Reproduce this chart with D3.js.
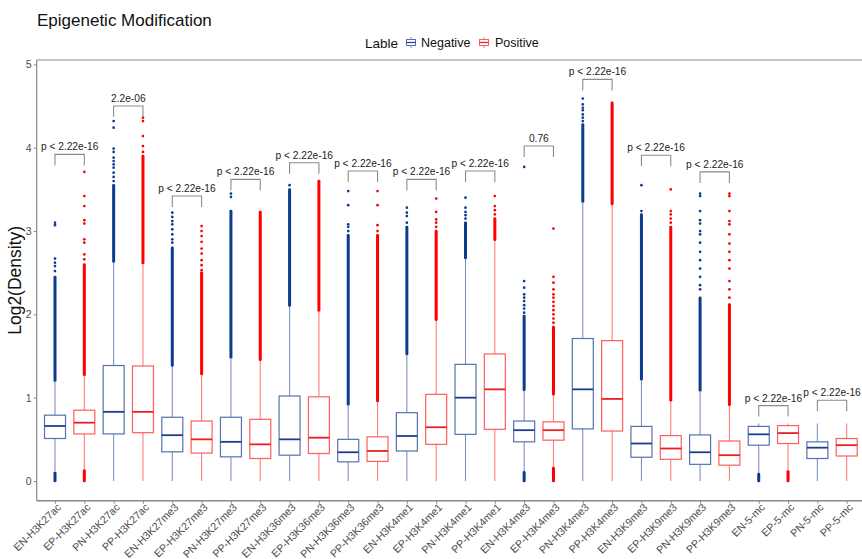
<!DOCTYPE html>
<html>
<head>
<meta charset="utf-8">
<script src="https://cdn.jsdelivr.net/npm/d3@7"></script>
<style>
  body { margin: 0; background: #fff; }
  svg { display: block; font-family: "Liberation Sans", Arial, sans-serif; }
</style>
</head>
<body>
<svg id="chart" width="862" height="559"></svg>
<script>
const categories = [
  "EN-H3K27ac", "EP-H3K27ac", "PN-H3K27ac", "PP-H3K27ac",
  "EN-H3K27me3", "EP-H3K27me3", "PN-H3K27me3", "PP-H3K27me3",
  "EN-H3K36me3", "EP-H3K36me3", "PN-H3K36me3", "PP-H3K36me3",
  "EN-H3K4me1", "EP-H3K4me1", "PN-H3K4me1", "PP-H3K4me1",
  "EN-H3K4me3", "EP-H3K4me3", "PN-H3K4me3", "PP-H3K4me3",
  "EN-H3K9me3", "EP-H3K9me3", "PN-H3K9me3", "PP-H3K9me3",
  "EN-5-mc", "EP-5-mc", "PN-5-mc", "PP-5-mc"
];
const labels = categories.map((c, i) => (i % 2 === 0 ? "Negative" : "Positive"));

// box statistics, log2 density
const whiskerLow = [0.11, 0.14, 0, 0, 0, 0, 0, 0, 0, 0, 0, 0, 0, 0, 0, 0,
  0.12, 0.17, 0, 0, 0, 0, 0, 0, 0.10, 0.13, 0, 0];
const q1 = [0.51, 0.565, 0.565, 0.58, 0.35, 0.335, 0.29, 0.27, 0.31, 0.33, 0.23, 0.235,
  0.36, 0.44, 0.56, 0.62, 0.47, 0.49, 0.625, 0.60, 0.285, 0.26, 0.20, 0.19,
  0.43, 0.45, 0.27, 0.30];
const median = [0.66, 0.70, 0.83, 0.83, 0.55, 0.50, 0.47, 0.44, 0.50, 0.52, 0.345, 0.36,
  0.54, 0.645, 1.00, 1.10, 0.61, 0.61, 1.10, 0.985, 0.45, 0.39, 0.345, 0.31,
  0.56, 0.575, 0.40, 0.43];
const q3 = [0.79, 0.85, 1.386, 1.38, 0.765, 0.72, 0.765, 0.74, 1.02, 1.01, 0.50, 0.53,
  0.82, 1.04, 1.40, 1.525, 0.72, 0.71, 1.71, 1.685, 0.655, 0.545, 0.553, 0.48,
  0.655, 0.665, 0.47, 0.51];
const whiskerHigh = [1.19, 1.26, 2.62, 2.60, 1.37, 1.27, 1.47, 1.44, 2.09, 2.03, 0.905, 0.945,
  1.51, 1.92, 2.66, 2.88, 1.08, 1.025, 3.34, 3.31, 1.205, 0.955, 1.075, 0.90,
  0.69, 0.69, 0.69, 0.69];
// top of the dense run of outliers above the upper whisker (null = none)
const denseTop = [2.45, 2.60, 3.55, 3.90, 2.80, 2.50, 3.24, 3.23, 3.50, 3.60, 2.95, 2.95,
  3.05, 3.00, 3.10, 3.15, 1.98, 1.85, 4.28, 4.54, 3.20, 3.05, 2.20, 2.12,
  null, null, null, null];
// isolated outliers above the dense run
const sparseOutliers = [
  [2.52, 2.58, 2.62, 2.67, 3.07, 3.10],
  [2.66, 2.72, 2.86, 2.90, 3.09, 3.13, 3.30, 3.42, 3.71],
  [3.60, 3.65, 3.70, 3.76, 3.80, 3.84, 3.88, 3.95, 3.99, 4.24, 4.32],
  [3.95, 4.02, 4.14, 4.32, 4.36],
  [2.86, 2.90, 2.96, 3.02, 3.08, 3.12, 3.17, 3.22],
  [2.53, 2.59, 2.65, 2.73, 2.79, 2.87, 2.94, 3.00, 3.06],
  [3.41, 3.45],
  [],
  [3.55],
  [],
  [3.00, 3.05, 3.08, 3.31, 3.48],
  [3.00, 3.07, 3.31, 3.48],
  [3.10, 3.18, 3.22, 3.28],
  [3.05, 3.10, 3.14, 3.23, 3.39],
  [3.15, 3.19, 3.23, 3.28, 3.40],
  [3.20, 3.25, 3.30, 3.42],
  [2.02, 2.07, 2.11, 2.16, 2.20, 2.24, 2.32, 2.40, 3.77],
  [1.90, 1.95, 2.00, 2.05, 2.10, 2.15, 2.20, 2.24, 2.30, 2.38, 2.45, 3.03],
  [4.32, 4.36, 4.40, 4.45, 4.48, 4.52, 4.59],
  [],
  [3.24, 3.55],
  [3.10, 3.15, 3.20, 3.24, 3.50],
  [2.30, 2.35, 2.45, 2.55, 2.65, 2.75, 2.86, 2.96, 3.00, 3.09, 3.13, 3.24, 3.42, 3.45],
  [2.20, 2.30, 2.40, 2.55, 2.65, 2.75, 2.85, 2.96, 3.08, 3.12, 3.24, 3.42, 3.45],
  [], [], [], []
];

// wilcoxon comparisons, one per pair of boxes
const pValueLabels = [
  "p < 2.22e-16", "2.2e-06", "p < 2.22e-16", "p < 2.22e-16", "p < 2.22e-16",
  "p < 2.22e-16", "p < 2.22e-16", "p < 2.22e-16", "0.76", "p < 2.22e-16",
  "p < 2.22e-16", "p < 2.22e-16", "p < 2.22e-16", "p < 2.22e-16"
];
const bracketY = [3.92, 4.50, 3.42, 3.62, 3.82, 3.72, 3.62, 3.72, 4.02, 4.82, 3.91, 3.71, 0.905, 0.97];

const yTicks = [0, 1, 2, 3, 4, 5];

const colors = {
  Negative: { box: "#5670b0", whisker: "#7d92c4", median: "#1d3e8e", point: "#0d3c8e" },
  Positive: { box: "#ff5c5c", whisker: "#ff7d7d", median: "#ee1d24", point: "#ff0000" },
};

const svg = d3.select("#chart");
const panel = { left: 36.7, top: 60, right: 866, bottom: 500.7 };

const x = d3.scalePoint().domain(categories).range([55, 846.7]);
const y = d3.scaleLinear().domain([0, 5]).range([481, 64.4]);
const boxWidth = 21;
const axisColor = "#8a8a8a";
const textColor = "#4d4d4d";

// title
svg.append("text")
  .attr("x", 37)
  .attr("y", 26)
  .attr("font-size", 17)
  .attr("fill", "#111")
  .text("Epigenetic Modification");

// legend
const legend = svg.append("g");
legend.append("text")
  .attr("x", 365).attr("y", 47.5)
  .attr("font-size", 13.5).attr("fill", "#111")
  .text("Lable");

const legendItems = [
  { key: "Negative", kx: 411, tx: 421 },
  { key: "Positive", kx: 484, tx: 495 },
];
legendItems.forEach((d) => {
  const c = colors[d.key];
  const g = legend.append("g");
  g.append("line").attr("x1", d.kx).attr("x2", d.kx).attr("y1", 37).attr("y2", 48)
    .attr("stroke", c.whisker).attr("stroke-width", 1);
  g.append("rect").attr("x", d.kx - 4.5).attr("y", 39.5).attr("width", 9).attr("height", 6)
    .attr("fill", "#fff").attr("stroke", c.box).attr("stroke-width", 1);
  g.append("line").attr("x1", d.kx - 4.5).attr("x2", d.kx + 4.5).attr("y1", 42.5).attr("y2", 42.5)
    .attr("stroke", c.median).attr("stroke-width", 1.2);
  g.append("text").attr("x", d.tx).attr("y", 47)
    .attr("font-size", 12.5).attr("fill", "#111").text(d.key);
});

// panel frame
svg.append("line")
  .attr("x1", panel.left).attr("x2", panel.right)
  .attr("y1", panel.top).attr("y2", panel.top)
  .attr("stroke", axisColor).attr("stroke-width", 1.1);

// y axis
const yAxis = svg.append("g")
  .attr("transform", `translate(${panel.left},0)`)
  .call(d3.axisLeft(y).tickValues(yTicks).tickFormat(d3.format("d")).tickSize(3).tickPadding(2));
yAxis.select(".domain").remove();
yAxis.selectAll(".tick line").attr("stroke", axisColor);
yAxis.selectAll(".tick text").attr("font-size", 10.5).attr("fill", textColor)
  .attr("font-family", "Liberation Sans, Arial, sans-serif");
svg.append("line")
  .attr("x1", panel.left).attr("x2", panel.left)
  .attr("y1", panel.top).attr("y2", panel.bottom)
  .attr("stroke", axisColor).attr("stroke-width", 1.2);

svg.append("text")
  .attr("transform", `translate(21,${(panel.top + panel.bottom) / 2}) rotate(-90)`)
  .attr("text-anchor", "middle")
  .attr("font-size", 17.5)
  .attr("fill", "#111")
  .text("Log2(Density)");

// x axis
const xAxis = svg.append("g")
  .attr("transform", `translate(0,${panel.bottom})`)
  .call(d3.axisBottom(x).tickSize(3));
xAxis.select(".domain").remove();
xAxis.selectAll(".tick line").attr("stroke", axisColor);
xAxis.selectAll(".tick text")
  .attr("font-size", 10.6)
  .attr("fill", textColor)
  .attr("font-family", "Liberation Sans, Arial, sans-serif")
  .attr("text-anchor", "end")
  .attr("y", 0)
  .attr("dy", "0.71em")
  .attr("transform", "translate(1,2) rotate(-45)");
svg.append("line")
  .attr("x1", panel.left).attr("x2", panel.right)
  .attr("y1", panel.bottom).attr("y2", panel.bottom)
  .attr("stroke", axisColor).attr("stroke-width", 1.4);

// boxes
const boxes = categories.map((cat, i) => ({
  cat, label: labels[i],
  wl: whiskerLow[i], q1: q1[i], med: median[i], q3: q3[i], wh: whiskerHigh[i],
  dense: denseTop[i], sparse: sparseOutliers[i],
}));

const g = svg.append("g");
const box = g.selectAll("g.box").data(boxes).join("g").attr("class", "box");

// whiskers
box.append("line")
  .attr("x1", (d) => x(d.cat)).attr("x2", (d) => x(d.cat))
  .attr("y1", (d) => y(d.q3)).attr("y2", (d) => y(d.wh))
  .attr("stroke", (d) => colors[d.label].whisker).attr("stroke-width", 1.1);
box.append("line")
  .attr("x1", (d) => x(d.cat)).attr("x2", (d) => x(d.cat))
  .attr("y1", (d) => y(d.q1)).attr("y2", (d) => y(d.wl))
  .attr("stroke", (d) => colors[d.label].whisker).attr("stroke-width", 1.1);

// dense runs of outliers
box.filter((d) => d.dense != null).append("rect")
  .attr("x", (d) => x(d.cat) - 1.5).attr("width", 3)
  .attr("y", (d) => y(d.dense) - 1.2)
  .attr("height", (d) => y(d.wh) - y(d.dense) + 1.2)
  .attr("rx", 1.3)
  .attr("fill", (d) => colors[d.label].point);
box.filter((d) => d.wl > 0).append("rect")
  .attr("x", (d) => x(d.cat) - 1.5).attr("width", 3)
  .attr("y", (d) => y(d.wl))
  .attr("height", (d) => y(0) - y(d.wl) + 1.2)
  .attr("rx", 1.3)
  .attr("fill", (d) => colors[d.label].point);

// isolated outliers
box.selectAll("circle")
  .data((d) => d.sparse.map((v) => ({ v, cat: d.cat, label: d.label })))
  .join("circle")
  .attr("cx", (d) => x(d.cat)).attr("cy", (d) => y(d.v))
  .attr("r", 1.35)
  .attr("fill", (d) => colors[d.label].point);

// box body
box.append("rect")
  .attr("x", (d) => x(d.cat) - boxWidth / 2).attr("width", boxWidth)
  .attr("y", (d) => y(d.q3)).attr("height", (d) => y(d.q1) - y(d.q3))
  .attr("fill", "#fff")
  .attr("stroke", (d) => colors[d.label].box).attr("stroke-width", 1.2);
box.append("line")
  .attr("x1", (d) => x(d.cat) - boxWidth / 2).attr("x2", (d) => x(d.cat) + boxWidth / 2)
  .attr("y1", (d) => y(d.med)).attr("y2", (d) => y(d.med))
  .attr("stroke", (d) => colors[d.label].median).attr("stroke-width", 1.8);

// significance brackets
const pairs = pValueLabels.map((p, i) => ({
  p, yTop: bracketY[i], a: categories[2 * i], b: categories[2 * i + 1],
}));
const brackets = svg.append("g").selectAll("g").data(pairs).join("g");
brackets.append("path")
  .attr("d", (d) => {
    const yt = y(d.yTop);
    return `M${x(d.a)},${yt + 11}V${yt}H${x(d.b)}V${yt + 11}`;
  })
  .attr("fill", "none").attr("stroke", "#8c8c8c").attr("stroke-width", 1.1);
brackets.append("text")
  .attr("x", (d) => (x(d.a) + x(d.b)) / 2)
  .attr("y", (d) => y(d.yTop) - 4)
  .attr("text-anchor", "middle")
  .attr("font-size", 10.2)
  .attr("fill", "#222")
  .text((d) => d.p);
</script>
</body>
</html>
